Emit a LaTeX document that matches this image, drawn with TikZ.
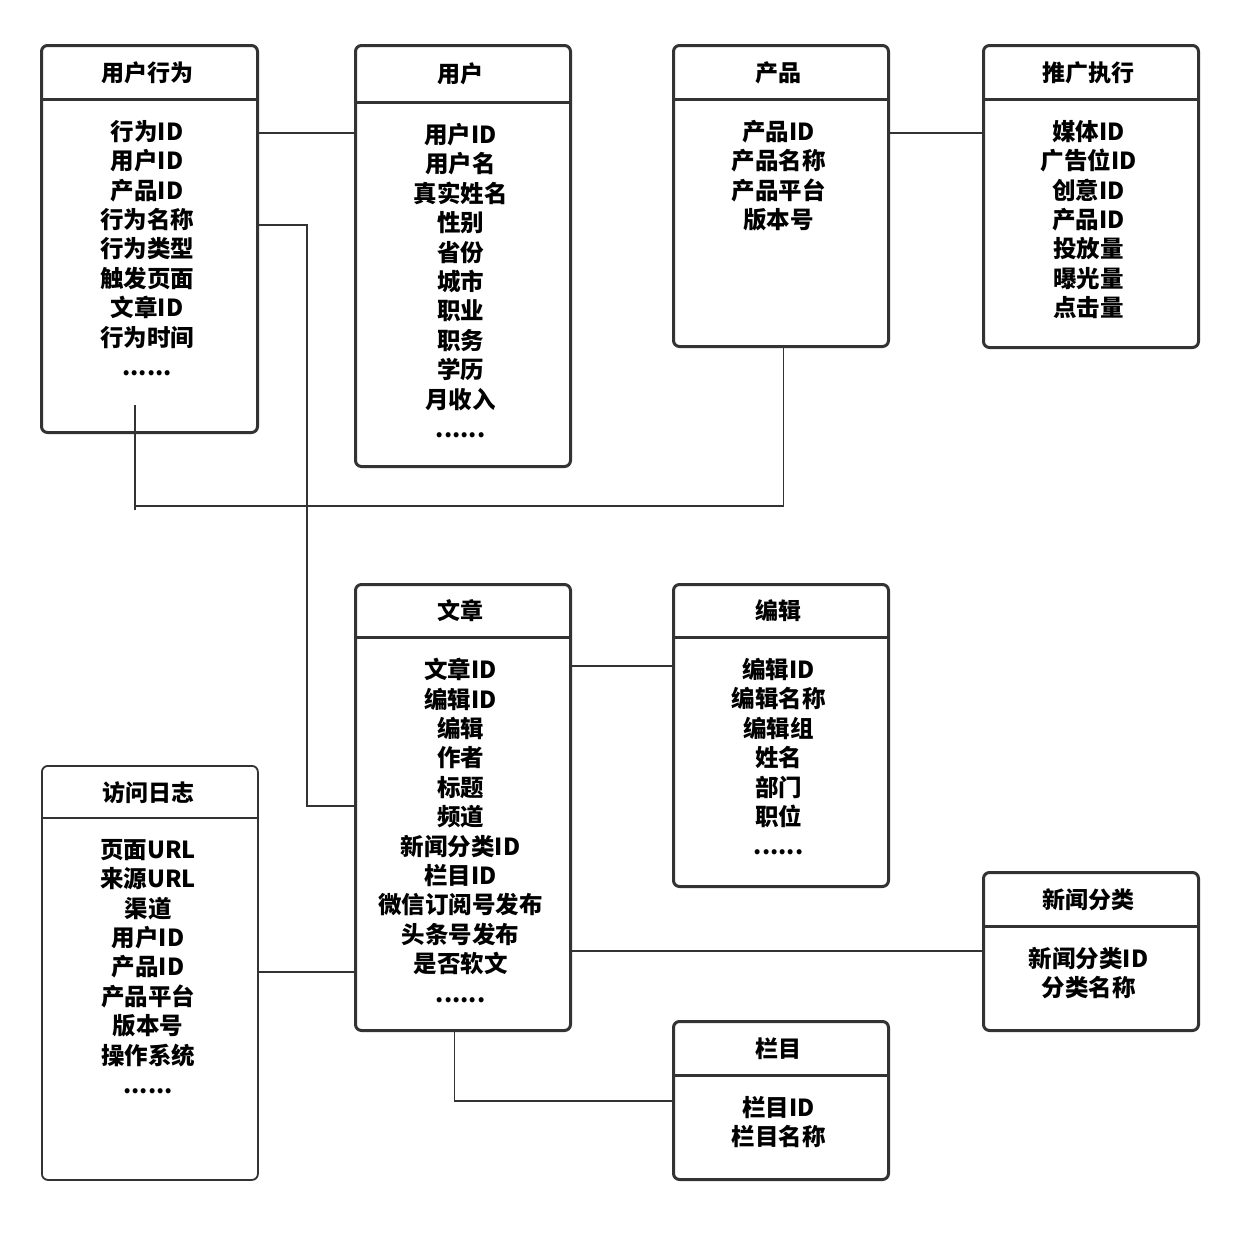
\documentclass[tikz,border=0pt]{standalone}
\usepackage{fontspec}
\setmainfont{Noto Sans CJK SC}
\usetikzlibrary{calc}
\definecolor{ink}{HTML}{333333}
\tikzset{
  erthick/.style={draw=ink, line width=3pt, rounded corners=6pt, fill=white, inner sep=0pt},
  erthin/.style={draw=ink, line width=1.8pt, rounded corners=6pt, fill=white, inner sep=0pt},
  erthick line/.style={draw=ink, line width=3pt},
  erthin line/.style={draw=ink, line width=1.8pt},
  ertitle/.style={font=\fontsize{23}{26}\selectfont\bfseries, inner sep=0pt},
  erbody/.style={font=\fontsize{23.5}{29.4}\selectfont\bfseries, align=center, inner sep=0pt, anchor=north},
  conn/.style={draw=ink, line width=1.5pt}
}
\newcommand\erbox[9]{%
  \node[#1, anchor=north west, minimum width={(#5-#3)*1pt}, minimum height={(#6-#4)*1pt}] (#2) at (#3,#4) {};
  \draw[#1 line] ($(#2.north west)+(0,#7-#4)$) -- ($(#2.north east)+(0,#7-#4)$);
  \node[ertitle] (#2-t) at ({(#3+#5)/2-1},{(#4+#7)/2+1}) {#8};
  \node[erbody] (#2-b) at ({(#3+#5)/2-1},{#7+21}) {#9};
}
\begin{document}
\begin{tikzpicture}[x=1pt,y=-1pt]
\useasboundingbox[fill=white] (0,0) rectangle (1252,1234);
\coordinate (c1) at (135,405);
\erbox{erthick}{yhxw}{40}{44}{256}{431}{99}{用户行为}{行为ID\\用户ID\\产品ID\\行为名称\\行为类型\\触发页面\\文章ID\\行为时间\\......}
\erbox{erthick}{yh}{354}{44}{569}{465}{102}{用户}{用户ID\\用户名\\真实姓名\\性别\\省份\\城市\\职业\\职务\\学历\\月收入\\......}
\erbox{erthick}{cp}{672}{44}{887}{345}{99}{产品}{产品ID\\产品名称\\产品平台\\版本号}
\erbox{erthick}{tg}{982}{44}{1197}{346}{99}{推广执行}{媒体ID\\广告位ID\\创意ID\\产品ID\\投放量\\曝光量\\点击量}
\erbox{erthick}{wz}{354}{583}{569}{1029}{637}{文章}{文章ID\\编辑ID\\编辑\\作者\\标题\\频道\\新闻分类ID\\栏目ID\\微信订阅号发布\\头条号发布\\是否软文\\......}
\erbox{erthick}{bj}{672}{583}{887}{885}{637}{编辑}{编辑ID\\编辑名称\\编辑组\\姓名\\部门\\职位\\......}
\erbox{erthin}{fw}{41}{765}{257}{1179}{818}{访问日志}{页面URL\\来源URL\\渠道\\用户ID\\产品ID\\产品平台\\版本号\\操作系统\\......}
\erbox{erthick}{xw}{982}{871}{1197}{1029}{926}{新闻分类}{新闻分类ID\\分类名称}
\erbox{erthick}{lm}{672}{1020}{887}{1178}{1075}{栏目}{栏目ID\\栏目名称}

\draw[conn] ($(yhxw.north east)+(0,89)$) -- ($(yh.north west)+(0,89)$);
\draw[conn] ($(yhxw.north east)+(0,181)$) -- ++(48,0) |- ($(wz.north west)+(0,223)$);
\draw[conn] (c1) -- ++(0,105);
\draw[conn] ($(c1)+(0,101)$) -| ([xshift=2.5pt]cp.south);
\draw[conn] ($(cp.north east)+(0,89)$) -- ($(tg.north west)+(0,89)$);
\draw[conn] ($(wz.north east)+(0,83)$) -- ($(bj.north west)+(0,83)$);
\draw[conn] ($(wz.north east)+(0,368)$) -- ($(xw.north west)+(0,80)$);
\draw[conn] ($(fw.north east)+(0,207)$) -- ($(wz.north west)+(0,389)$);
\draw[conn] ([xshift=-8.5pt]wz.south) |- ($(lm.north west)+(0,81)$);
\end{tikzpicture}
\end{document}
